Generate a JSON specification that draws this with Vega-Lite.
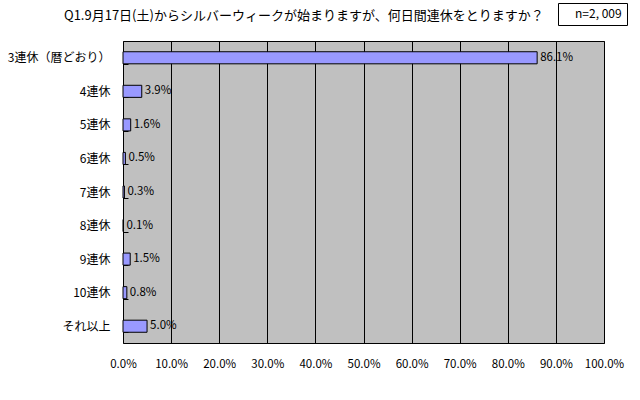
{
  "$schema": "https://vega.github.io/schema/vega-lite/v6.json",
  "width": 481,
  "height": 302,
  "autosize": {"type": "none"},
  "padding": {"left": 123, "top": 41, "right": 36, "bottom": 57},
  "background": "#ffffff",
  "title": {
    "text": "Q1.9月17日(土)からシルバーウィークが始まりますが、何日間連休をとりますか？",
    "anchor": "start",
    "frame": "group",
    "dx": -59,
    "offset": -20,
    "font": "Noto Sans CJK JP",
    "fontSize": 13,
    "fontWeight": "normal",
    "color": "#000000"
  },
  "data": {
    "values": [
      {"category": "3連休（暦どおり）", "rate": 0.861, "note": "n=2, 009"},
      {"category": "4連休", "rate": 0.039, "note": "n=2, 009"},
      {"category": "5連休", "rate": 0.016, "note": "n=2, 009"},
      {"category": "6連休", "rate": 0.005, "note": "n=2, 009"},
      {"category": "7連休", "rate": 0.003, "note": "n=2, 009"},
      {"category": "8連休", "rate": 0.001, "note": "n=2, 009"},
      {"category": "9連休", "rate": 0.015, "note": "n=2, 009"},
      {"category": "10連休", "rate": 0.008, "note": "n=2, 009"},
      {"category": "それ以上", "rate": 0.05, "note": "n=2, 009"}
    ]
  },
  "encoding": {
    "y": {
      "field": "category",
      "type": "nominal",
      "sort": null,
      "scale": {"paddingInner": 0.64, "paddingOuter": 0.32},
      "axis": {
        "title": null,
        "domain": false,
        "ticks": true,
        "tickBand": "extent",
        "tickSize": -5,
        "tickColor": "#000000",
        "labelPadding": 18,
        "labelFont": "Noto Sans CJK JP",
        "labelFontSize": 12,
        "labelColor": "#000000",
        "grid": false
      }
    },
    "x": {
      "field": "rate",
      "type": "quantitative",
      "scale": {"domain": [0, 1], "nice": false},
      "axis": {
        "title": null,
        "format": ".1%",
        "values": [0, 0.1, 0.2, 0.3, 0.4, 0.5, 0.6, 0.7, 0.8, 0.9, 1.0],
        "domain": false,
        "ticks": false,
        "labelPadding": 15,
        "labelFlush": false,
        "labelFont": "Noto Sans CJK JP",
        "labelFontSize": 11.5,
        "labelColor": "#000000",
        "grid": true,
        "gridColor": "#000000",
        "gridWidth": 1,
        "gridOpacity": 1
      }
    }
  },
  "layer": [
    {
      "mark": {"type": "bar", "fill": "#9999ff", "stroke": "#000000", "strokeWidth": 1}
    },
    {
      "mark": {
        "type": "text",
        "align": "left",
        "baseline": "middle",
        "dx": 3,
        "font": "Noto Sans CJK JP",
        "fontSize": 11.5
      },
      "encoding": {
        "text": {"field": "rate", "type": "quantitative", "format": ".1%"},
        "color": {
          "field": "note",
          "type": "nominal",
          "scale": {"range": ["#000000"]},
          "legend": {
            "title": null,
            "orient": "none",
            "legendX": 435,
            "legendY": -38,
            "symbolSize": 0,
            "symbolStrokeWidth": 0,
            "symbolOpacity": 0,
            "labelOffset": 0,
            "labelFont": "Noto Sans CJK JP",
            "labelFontSize": 12,
            "labelColor": "#000000",
            "padding": 5,
            "strokeColor": "#000000",
            "fillColor": "#ffffff",
            "cornerRadius": 0
          }
        }
      }
    }
  ],
  "config": {
    "view": {"fill": "#c0c0c0", "stroke": "#000000", "strokeWidth": 1}
  }
}
